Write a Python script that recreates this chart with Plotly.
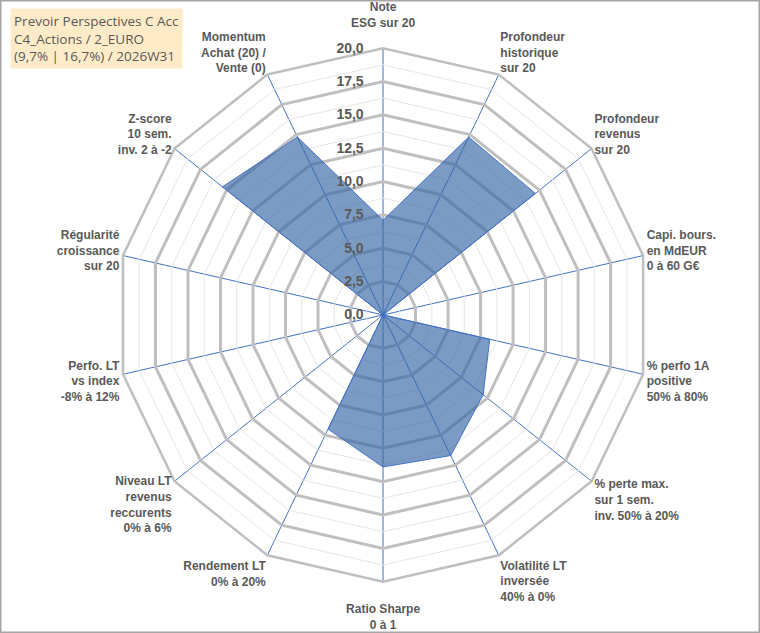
import plotly.graph_objects as go

categories = [
    "Note<br>ESG sur 20<br> ",
    "Profondeur<br>historique<br>sur 20",
    "Profondeur<br>revenus<br>sur 20",
    "Capi. bours.<br>en MdEUR<br>0 à 60 G€",
    "% perfo 1A<br>positive<br>50% à 80%",
    "% perte max.<br>sur 1 sem.<br>inv. 50% à 20%",
    "Volatilité LT<br>inversée<br>40% à 0%",
    " <br>Ratio Sharpe<br>0 à 1",
    "Rendement LT<br>0% à 20%",
    "Niveau LT<br>revenus<br>reccurents<br>0% à 6%",
    "Perfo. LT<br>vs index<br>-8% à 12%",
    "Régularité<br>croissance<br>sur 20",
    "Z-score<br>10 sem.<br>inv. 2 à -2",
    "Momentum<br>Achat (20) /<br>Vente (0)",
]
values = [7.1, 14.8, 14.6, 0, 8.2, 9.6, 11.7, 11.4, 9.5, 0, 0, 0, 15.4, 14.8]

major_ticks = [0, 2.5, 5, 7.5, 10, 12.5, 15, 17.5, 20]
minor_rings = [1.25, 3.75, 6.25, 8.75, 11.25, 13.75, 16.25, 18.75]

title_lines = ["Prevoir Perspectives C Acc", "C4_Actions / 2_EURO", "(9,7% | 16,7%) / 2026W31"]

fig = go.Figure()

# light minor rings
for r in minor_rings:
    fig.add_trace(go.Scatterpolar(
        r=[r] * (len(categories) + 1), theta=categories + categories[:1],
        mode="lines", line=dict(color="#E6E6E6", width=1),
        hoverinfo="skip", showlegend=False))

fig.add_trace(go.Scatterpolar(
    r=values + values[:1], theta=categories + categories[:1],
    mode="lines", fill="toself",
    fillcolor="rgba(52,101,164,0.65)",
    line=dict(color="#4472C4", width=1),
    showlegend=False))

fig.update_layout(
    width=760, height=633,
    margin=dict(l=0, r=0, t=0, b=0),
    paper_bgcolor="white",
    separators=", ",
    font=dict(family="Liberation Sans", color="#595959"),
    polar=dict(
        domain=dict(x=[0.153, 0.855], y=[0.081, 0.924]),
        bgcolor="white",
        gridshape="linear",
        angularaxis=dict(
            rotation=90, direction="clockwise",
            showgrid=True, gridcolor="#4472C4", gridwidth=1,
            showline=True, linecolor="#BFBFBF", linewidth=2.5,
            ticks="", tickfont=dict(size=12, color="#595959", family="Liberation Sans", weight="bold"),
        ),
        radialaxis=dict(
            range=[0, 20], tickvals=major_ticks, tickformat=".1f",
            angle=90, tickangle=90, side="counterclockwise",
            showline=False,
            # invisible ticks push the labels a little further from the axis
            ticks="outside", ticklen=14, tickcolor="rgba(0,0,0,0)",
            gridcolor="#BFBFBF", gridwidth=2.5,
            tickfont=dict(size=14, color="#595959", family="Liberation Sans", weight="bold"),
        ),
    ),
    shapes=[dict(type="rect", xref="paper", yref="paper", x0=0.001, y0=0.001, x1=0.999, y1=0.999,
                 line=dict(color="#A6A6A6", width=1.5))],
    annotations=[dict(
        text="<br>".join(title_lines), xref="paper", yref="paper",
        x=0.013, y=0.987, xanchor="left", yanchor="top", align="left", showarrow=False,
        bgcolor="#FFEBC8", borderpad=3,
        font=dict(family="Open Sans", size=13.5, color="#595959"),
    )],
)

fig.write_html("out.html", config={"displayModeBar": False},
               post_script="document.body.style.margin='0';document.body.style.overflow='hidden';")
